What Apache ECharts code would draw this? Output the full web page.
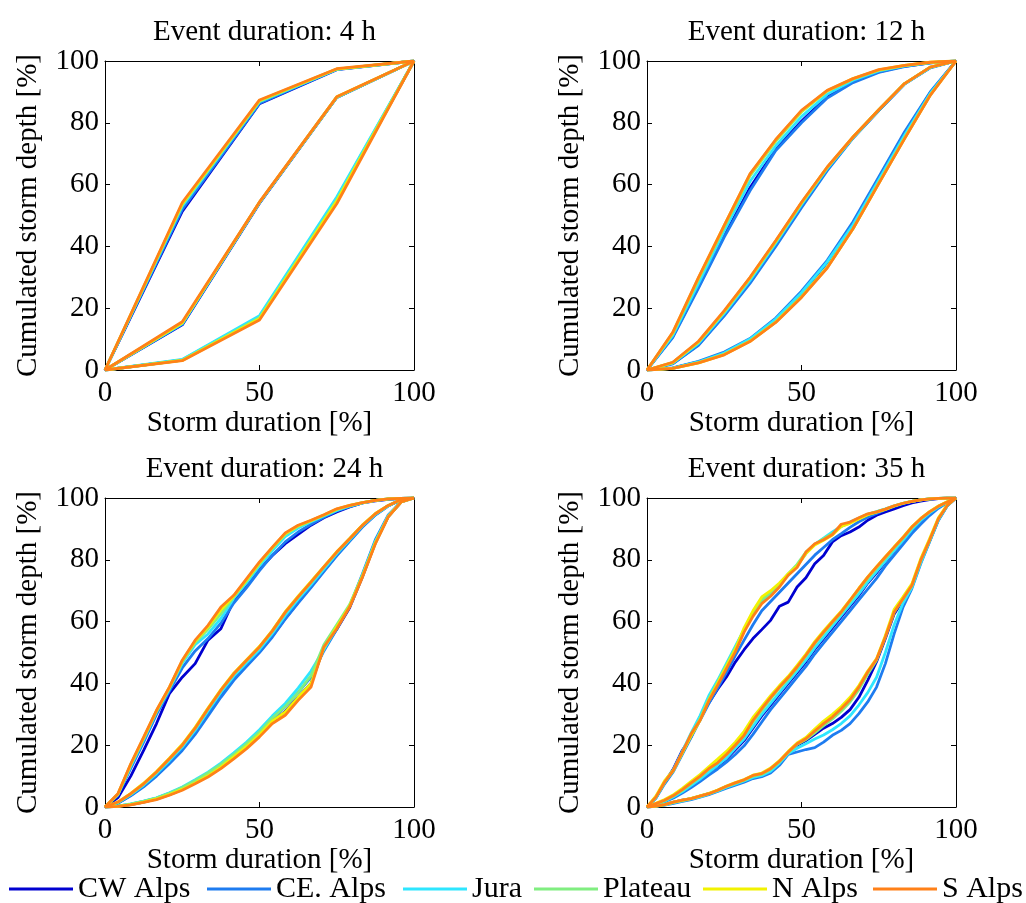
<!DOCTYPE html>
<html><head><meta charset="utf-8">
<script src="https://cdn.jsdelivr.net/npm/echarts@6/dist/echarts.min.js"></script>
<style>html,body{margin:0;padding:0;background:#fff}#c{width:1026px;height:903px}</style>
</head><body><div id="c"></div>
<script>
const regions = ['CW Alps','CE. Alps','Jura','Plateau','N Alps','S Alps'];
const colors = ['#0000D0','#1E7CF0','#2EE6FF','#80EE80','#F2F200','#FF8018'];
const titles = ['Event duration: 4 h','Event duration: 12 h','Event duration: 24 h','Event duration: 35 h'];
const xTicks = [0,50,100];
const yTicks = [0,20,40,60,80,100];

// storm duration [%] sample positions per panel
const x4 = [0,25,50,75,100];
const x12 = [0,8.33,16.67,25,33.33,41.67,50,58.33,66.67,75,83.33,91.67,100];
const x24 = [0,4.17,8.33,12.5,16.67,20.83,25,29.17,33.33,37.5,41.67,45.83,50,54.17,58.33,62.5,66.67,70.83,75,79.17,83.33,87.5,91.67,95.83,100];
const x35 = [0,2.86,5.71,8.57,11.43,14.29,17.14,20,22.86,25.71,28.57,31.43,34.29,37.14,40,42.86,45.71,48.57,51.43,54.29,57.14,60,62.86,65.71,68.57,71.43,74.29,77.14,80,82.86,85.71,88.57,91.43,94.29,97.14,100];

// rows: CW Alps, CE. Alps, Jura, Plateau, N Alps, S Alps
const up4 = [
 [0,51.3,86.2,97.2,100],
 [0,52.0,86.3,97.3,100],
 [0,53.0,86.8,97.3,100],
 [0,53.5,87.0,97.4,100],
 [0,53.8,87.2,97.4,100],
 [0,54.2,87.4,97.5,100]];
const med4 = [
 [0,14.6,54.0,88.2,100],
 [0,14.8,54.1,88.2,100],
 [0,15.0,54.2,88.3,100],
 [0,15.2,54.3,88.3,100],
 [0,15.3,54.3,88.4,100],
 [0,15.6,54.4,88.4,100]];
const low4 = [
 [0,3.2,16.8,54.8,100],
 [0,3.3,17.2,55.5,100],
 [0,3.4,17.6,56.0,100],
 [0,3.2,16.9,55.0,100],
 [0,3.1,16.6,54.6,100],
 [0,3.0,16.2,53.8,100]];

const up12 = [
 [0,10.8,27,43.5,59,71.5,80.5,88.5,93.3,96.5,98.3,99.4,100],
 [0,10.5,26.5,43,58,71,80,88,93,96.3,98.2,99.4,100],
 [0,11.2,28,45,61,72.5,82,89.2,93.8,96.8,98.4,99.5,100],
 [0,11.8,29.3,46.2,62.8,74,83.5,90.2,94.2,97,98.5,99.5,100],
 [0,12,29.8,46.8,63.3,74.5,83.8,90.4,94.3,97.1,98.6,99.6,100],
 [0,12.2,30,46.8,63.5,74.6,84,90.5,94.3,97.2,98.6,99.6,100]];
const med12 = [
 [0,2.1,8.2,17.8,28.5,40.5,53,65,75.2,84,92.6,97.9,100],
 [0,2,8,17.5,28,40,52.5,64.5,75,84,92.5,97.8,100],
 [0,2.2,8.6,18.3,29,41,53.5,65.2,75.2,84.1,92.6,97.9,100],
 [0,2.4,9,18.9,29.7,41.6,54,65.5,75.3,84.2,92.7,98,100],
 [0,2.4,9.1,19,29.8,41.7,54.1,65.6,75.4,84.2,92.7,98,100],
 [0,2.5,9.3,19.2,30,41.9,54.3,65.7,75.4,84.2,92.7,98,100]];
const low12 = [
 [0,0.6,2.6,5.5,9.8,16.2,24.8,34.8,47.3,62,76.5,89.7,100],
 [0,0.7,2.8,5.8,10.2,16.8,25.5,35.5,48,62.5,77,90,100],
 [0,0.6,2.6,5.5,10,16.5,25,35,47,61.5,76,89.5,100],
 [0,0.5,2.4,5.1,9.4,15.6,23.8,33.3,45.8,60.5,75,89,100],
 [0,0.5,2.3,5,9.3,15.5,23.6,33.2,45.7,60.4,74.9,89,100],
 [0,0.5,2.3,4.9,9.2,15.4,23.5,33,45.7,60.3,74.8,88.9,100]];

const up24 = [
 [0,3,10,18.3,27,36.7,42,46.4,54,57.7,66.9,71.7,77,81.4,85.2,88.2,91.2,93.6,95.5,97.1,98.4,99.1,99.6,99.9,100],
 [0,3.8,12.5,21,30,37.5,45,50.5,54.5,59.5,66,71,76.5,81.5,85.8,89,91.5,93.8,95.8,97.2,98.4,99.2,99.6,99.9,100],
 [0,4,13.2,21.8,30.8,38.2,46.5,52.5,56,61,67.5,72.5,78,83,87.5,90.3,92.3,94.2,96,97.4,98.4,99.2,99.7,99.9,100],
 [0,4.1,13.6,22.2,31,38.5,47,53.2,57.5,62.5,68,73.2,78.7,83.7,88.2,90.8,92.6,94.4,96.3,97.5,98.5,99.2,99.7,99.9,100],
 [0,4.2,13.8,22.4,31.2,38.7,47.3,53.7,58.3,63.8,68.3,73.6,79,84,88.5,91,92.7,94.5,96.4,97.6,98.5,99.2,99.7,99.9,100],
 [0,4.3,14,22.6,31.3,38.8,47.5,54,58.8,64.7,68.5,73.9,79.3,84.1,88.7,91.2,92.8,94.6,96.5,97.6,98.5,99.2,99.7,99.9,100]];
const med24 = [
 [0,1.3,3.8,6.8,10.3,14.5,18.8,24,30,36,41.5,46,50.3,55.3,61,66.3,71.3,76.5,81.6,86.2,90.8,94.6,97.5,99.4,100],
 [0,1.2,3.6,6.5,10,14,18.3,23.5,29.5,35.5,41,45.5,50,55,60.8,66,71,76.2,81.3,86,90.6,94.5,97.4,99.4,100],
 [0,1.4,4,7.1,10.8,15,19.4,24.8,31,37,42.3,46.7,51,56.2,62,67.2,72,77,82,86.5,91,94.7,97.5,99.5,100],
 [0,1.5,4.2,7.4,11.2,15.5,19.9,25.4,31.7,37.7,43,47.4,51.7,56.9,62.9,67.9,72.7,77.6,82.4,86.8,91.2,94.9,97.6,99.5,100],
 [0,1.6,4.4,7.7,11.5,15.8,20.3,25.8,32,38,43.3,47.7,52,57.2,63.2,68.2,73,77.8,82.6,86.9,91.3,95,97.6,99.5,100],
 [0,1.6,4.3,7.5,11.3,15.6,20,25.5,31.8,37.8,43.1,47.5,51.8,57,63,68,72.8,77.7,82.5,86.8,91.2,94.9,97.6,99.5,100]];
const low24 = [
 [0,0.2,0.8,1.6,2.6,4,5.7,7.8,10,12.8,16,19.5,23.3,27.5,31,35.5,40,51.5,57.5,64.5,74.5,85.5,94,98.7,100],
 [0,0.3,0.9,1.8,2.9,4.4,6.2,8.4,10.8,13.6,16.8,20.2,24,28.5,32.5,37,42,50.5,57.5,65,75.5,86.5,94.5,98.8,100],
 [0,0.3,1,1.9,3,4.6,6.5,8.8,11.3,14.2,17.5,21,25,29.5,33.5,38.5,44,51,58,65,75,86,94.2,98.8,100],
 [0,0.3,0.9,1.8,2.9,4.4,6.3,8.5,11,13.8,17,20.5,24.3,28.8,32.5,37,42.5,52.5,59,65.5,75,85.7,94,98.7,100],
 [0,0.2,0.8,1.6,2.6,4,5.7,7.8,10.1,12.9,16.2,19.6,23.4,27.8,30.8,35.5,40,51.5,58.3,65,74.7,85.4,94,98.7,100],
 [0,0.2,0.7,1.5,2.4,3.8,5.4,7.5,9.7,12.4,15.6,18.9,22.7,27,29.7,34.5,38.8,51.8,57.7,64.7,74.4,85.2,93.9,98.7,100]];

const up35 = [
 [0,3,8,12.4,18.3,22.7,29.1,33.7,38.1,42.1,46.9,50.9,54.5,57.4,60.4,65,66.3,71.2,74.2,78.7,81.4,85.8,87.8,89,90.6,92.8,94.4,95.5,96.5,97.5,98.4,99,99.5,99.8,100,100],
 [0,2.8,7.5,11.5,17,22.5,28,33.5,38.5,43.5,49,54,59,63.5,66.5,69.5,72.5,75.5,78.5,81.5,84,86.5,88.5,90.5,92.3,93.8,95,96.2,97.3,98.2,98.9,99.4,99.7,99.9,100,100],
 [0,3,8,12,18,24,29.5,36,41,46.5,52,57.5,62.5,66.5,69,72,75,78,82,85,87,89,90.8,92.2,93.5,94.7,95.6,96.5,97.5,98.3,98.9,99.4,99.7,99.9,100,100],
 [0,3.1,8,11.8,17.5,23.5,28.5,35,40.5,46,51.5,57.5,62.8,67,69.5,72,75.5,78.5,82.5,85,86.8,88.5,90.8,92,93.4,94.7,95.5,96.4,97.4,98.3,98.9,99.4,99.7,99.9,100,100],
 [0,3.5,8.5,12,17.5,23,28,34.5,40,45.5,51,58,63.5,68,70,72.5,75.5,78,82,84.8,86.3,88,90.8,91.8,93.2,94.6,95.4,96.3,97.4,98.3,98.9,99.4,99.7,99.9,100,100],
 [0,3.2,8.1,11.9,17.8,23.7,28,34.3,39.4,44.8,50.2,56.6,61.7,65.8,68.2,71.2,75,77.5,82.5,85.2,86.5,88.2,91.5,92.2,93.6,94.9,95.5,96.4,97.5,98.3,98.9,99.4,99.7,99.9,100,100]];
const med35 = [
 [0,0.9,1.9,3.2,4.9,6.9,8.9,11.2,13.3,15.5,18.5,21.5,25.5,29.5,33,36.5,40,43.5,47,51,54.5,58,61.5,65,68.5,72.5,75.8,79.3,82.8,86.2,89.5,92.5,95,97,98.6,100],
 [0,0.8,1.7,2.9,4.5,6.3,8.2,10.3,12.3,14.5,17,19.8,23.5,27.5,31.5,35,38.5,42,45.5,49.5,53,56.5,60,63.5,67,70.5,74,78,81.5,85,88.5,91.5,94.3,96.7,98.5,100],
 [0,0.9,1.9,3.3,5,7,9,11.3,13.5,15.8,19,22,26,30,33.5,37,40.5,44,47.5,51.5,55,58.5,62,65.5,69,72.8,76.2,79.6,83,86.3,89.8,92.7,95.2,97.1,98.6,100],
 [0,1,2.1,3.6,5.4,7.6,9.7,12.2,14.4,17,20,23.2,27.5,31.3,35,38.5,41.5,45,48.8,52.8,56.3,59.6,62.8,66.5,70.3,74,77.3,80.5,83.8,87,90.4,93.2,95.5,97.3,98.7,100],
 [0,1.2,2.4,4,6,8.3,10.5,13,15.5,18,21,24.5,29,32.5,36,39.3,42.3,45.8,49.5,53.5,57,60.2,63.4,67,70.8,74.5,77.8,81,84.2,87.3,90.7,93.4,95.6,97.4,98.8,100],
 [0,1.1,2.2,3.7,5.6,7.8,9.9,12.4,14.3,17,20,23.2,28,31.8,35.4,38.8,41.9,45.3,49.1,53.1,56.6,59.9,63.1,66.9,70.7,74.4,77.7,80.9,84.1,87.2,90.6,93.3,95.5,97.3,98.7,100]];
const low35 = [
 [0,0.3,0.8,1.6,2.2,2.7,3.5,4.3,5.3,6.6,7.6,8.6,9.8,10.5,12,14.5,17.5,20,21.5,23.5,25.5,27,29,31.5,35.5,41,47,54.5,62.5,67,71.5,79.5,86,93,97.5,100],
 [0,0.2,0.6,1.2,1.8,2.4,3.2,4,5,6.1,7.1,8,9.2,9.8,11,13.5,17,17.8,18.6,19.2,21,23.2,24.8,27,30.2,34,38.8,46.4,56.1,64.7,70.7,78.7,85.8,92.7,97.4,100],
 [0,0.3,0.7,1.4,2,2.6,3.3,4.2,5.2,6.4,7.4,8.4,9.6,10.2,11.6,14.2,17.3,19,20.5,22,23.3,25,27,29.5,33,37,42,50,59,66,71,79,86,93,97.5,100],
 [0,0.3,0.8,1.5,2.1,2.7,3.4,4.3,5.4,6.6,7.7,8.7,10,10.6,12.2,14.6,17.6,20.2,21.8,24,26.3,28.5,31,34,38,43,47.5,55,63,67.3,71.6,79.7,86.2,93.2,97.6,100],
 [0,0.3,0.8,1.6,2.2,2.8,3.6,4.4,5.5,6.8,7.9,8.9,10.3,11,12.6,15,18,20.7,22.5,25.2,27.8,30,32.5,35.5,39.3,44,48,55.5,64,68,72.2,80.3,86.8,93.6,97.8,100],
 [0,0.3,0.8,1.6,2.2,2.7,3.5,4.3,5.4,6.7,7.8,8.8,10.2,10.8,12.4,14.8,17.8,20.5,22.1,24.6,27,29.1,31.8,34.7,38.8,43.7,47.8,55,63.1,67.4,71.7,79.8,86.3,93.3,97.6,100]];

const panels = [
  {x: x4, curves: [up4, med4, low4]},
  {x: x12, curves: [up12, med12, low12]},
  {x: x24, curves: [up24, med24, low24]},
  {x: x35, curves: [up35, med35, low35]}
];

const FONT = 'Liberation Serif';
const FS = 29;
const lefts = [105, 647], tops = [61, 498], SIZE = 309;
const legendLefts = [9, 207, 403, 534, 703, 873];

const grid = [], xAxis = [], yAxis = [], series = [], title = [];
panels.forEach((p, g) => {
  const L = lefts[g % 2], T = tops[Math.floor(g / 2)];
  grid.push({left: L, top: T, width: SIZE, height: SIZE, containLabel: false});
  title.push({text: titles[g], left: L + SIZE / 2, top: T - 48, textAlign: 'center',
    textStyle: {fontFamily: FONT, fontSize: FS, fontWeight: 'normal', color: '#000'}});
  const common = {min: 0, max: 100, gridIndex: g, splitLine: {show: false},
    axisLine: {show: true, onZero: false, lineStyle: {color: '#000', width: 1}},
    axisTick: {show: true, inside: true, length: 5, lineStyle: {color: '#000', width: 1}}};
  xAxis.push(Object.assign({}, common, {type: 'value', position: 'bottom', interval: 50,
    axisLabel: {show: true, margin: 9, color: '#000', fontFamily: FONT, fontSize: FS,
      formatter: v => xTicks.includes(v) ? String(v) : ''},
    name: 'Storm duration [%]', nameLocation: 'middle', nameGap: 39,
    nameTextStyle: {fontFamily: FONT, fontSize: FS, color: '#000'}}));
  xAxis.push(Object.assign({}, common, {type: 'value', position: 'top', interval: 50, axisLabel: {show: false}}));
  yAxis.push(Object.assign({}, common, {type: 'value', position: 'left', interval: 20,
    axisLabel: {show: true, margin: 6, color: '#000', fontFamily: FONT, fontSize: FS,
      formatter: v => yTicks.includes(v) ? String(v) : ''},
    name: 'Cumulated storm depth [%]', nameLocation: 'middle', nameGap: 62,
    nameTextStyle: {fontFamily: FONT, fontSize: FS, color: '#000'}}));
  yAxis.push(Object.assign({}, common, {type: 'value', position: 'right', interval: 20, axisLabel: {show: false}}));
  regions.forEach((r, ri) => {
    p.curves.forEach(c => {
      series.push({
        type: 'line', name: r, xAxisIndex: 2 * g, yAxisIndex: 2 * g,
        data: p.x.map((xv, i) => [xv, c[ri][i]]),
        symbol: 'none', showSymbol: false, smooth: false,
        color: colors[ri],
        lineStyle: {color: colors[ri], width: 2.8},
        emphasis: {disabled: true}, silent: true
      });
    });
  });
});

const legend = regions.map((r, i) => ({
  data: [r], left: legendLefts[i] - 5, top: 869, icon: 'rect', itemWidth: 64, itemHeight: 3,
  textStyle: {fontFamily: FONT, fontSize: 30, color: '#000'}, selectedMode: false
}));

const chart = echarts.init(document.getElementById('c'), null, {renderer: 'canvas'});
chart.setOption({
  animation: false,
  backgroundColor: '#fff',
  title, grid, xAxis, yAxis, series, legend
});
</script></body></html>
